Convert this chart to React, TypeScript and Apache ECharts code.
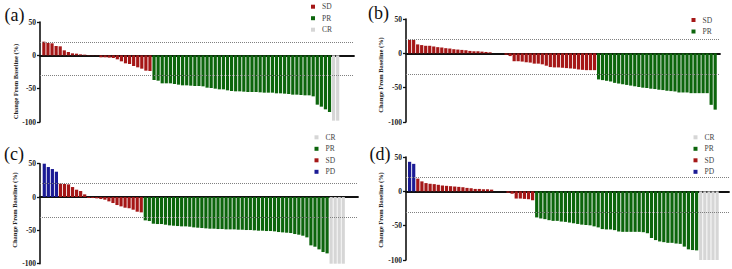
import React, { useEffect, useRef } from "react";
import * as echarts from "echarts";

// ---- data (change from baseline, %) ----
const aSD = [20.5, 18.5, 18, 14, 13.5, 7.5, 5, 3, 2.5, 1.5, 1, 0.5, 0.3, 0.3, -3, -3, -3.5, -4, -6, -9, -12, -13, -16, -18, -20, -23, -23.5];
const aPR = [-37, -38, -42, -42, -42, -43, -44, -45, -45, -45.5, -46, -46, -46.5, -48.5, -49, -50, -51, -51, -52.5, -53.5, -54, -54, -54.5, -55, -55, -55, -55.5, -56, -56, -56, -57, -57, -57.5, -58, -59, -59, -59.5, -60, -60, -61.5, -74, -77, -81, -85];
const aCR = [-98, -98];

const bSD = [19.5, 19.5, 13, 12, 11, 11, 10, 9, 8.5, 7.5, 7, 6, 5.5, 5, 4.5, 3.5, 3, 3, 2.5, 2, 1.5, 0, 0, 0, -2, -4, -11.5, -11.5, -12, -13, -13.5, -15, -15, -16, -18, -20, -20.5, -20.5, -21, -21.5, -22, -22.5, -23.5, -24, -24.5, -24.5, -24.5];
const bPR = [-38, -39, -40, -41, -43, -44, -45, -46, -47, -48, -49, -50, -50.5, -51.5, -52, -53, -53.5, -54.5, -55, -55.5, -57, -57, -57, -58, -58, -58, -58, -58, -75, -82];

const cPD = [50, 45, 42, 38];
const cSD = [20, 19.5, 19, 15, 11, 9, 4, -1.5, -1.5, -2, -3, -4, -6.5, -9, -12, -14, -16, -17, -19, -22, -23];
const cPR = [-35, -36, -40, -40.5, -40.5, -41.5, -42.5, -43, -43.5, -44, -44, -44.5, -45.5, -46, -46.5, -47, -47.5, -47.5, -48, -48, -48.5, -48.5, -48.5, -49, -49, -49.5, -49.5, -50, -50.5, -50.5, -51, -51, -51.5, -52.5, -53, -53.5, -54, -55.5, -56.5, -58, -60.5, -72.5, -74.5, -78.5, -82.5, -84.5];
const cCR = [-100, -100, -100, -100];

const dPD = [43, 40];
const dSD = [18.5, 14.5, 12, 11, 10.5, 9.5, 8.5, 8, 7.5, 7, 6.5, 6, 5, 4.5, 3.5, 3.5, 3, 3, 2.5, 0, 0, 0, -2, -3.5, -10.5, -10.5, -11, -11.5, -13];
const dPR = [-38, -39.5, -40.5, -42, -43, -43, -44, -44.5, -45.5, -46.5, -47.5, -48.5, -49, -49.5, -51, -52.5, -55, -55.5, -55.5, -56.5, -58.5, -59, -59, -59, -59, -59, -59.5, -61, -68, -71, -73, -74, -75, -75, -76, -76.5, -80.5, -84.5, -85.5, -86];
const dCR = [-100, -100, -100, -100, -100];

const yTicks = [-100, -50, 0, 50];
const panelLabels = ["(a)", "(b)", "(c)", "(d)"];
const axisTitle = "Change From Baseline (%)";

const COLORS: Record<string, string> = {
  SD: "#a51717",
  PR: "#0c650c",
  CR: "#d6d6d6",
  PD: "#1b1b95",
};

const FONT = "Liberation Serif";

type Group = { name: string; values: number[] };

const panels: { groups: Group[]; legend: string[] }[] = [
  { groups: [{ name: "SD", values: aSD }, { name: "PR", values: aPR }, { name: "CR", values: aCR }], legend: ["SD", "PR", "CR"] },
  { groups: [{ name: "SD", values: bSD }, { name: "PR", values: bPR }], legend: ["SD", "PR"] },
  { groups: [{ name: "PD", values: cPD }, { name: "SD", values: cSD }, { name: "PR", values: cPR }, { name: "CR", values: cCR }], legend: ["CR", "PR", "SD", "PD"] },
  { groups: [{ name: "PD", values: dPD }, { name: "SD", values: dSD }, { name: "PR", values: dPR }, { name: "CR", values: dCR }], legend: ["CR", "PR", "SD", "PD"] },
];

// layout
const grids = [
  { left: 40, top: 22, width: 314, height: 100 },
  { left: 406, top: 19, width: 314, height: 103 },
  { left: 40, top: 163.7, width: 318, height: 100 },
  { left: 406, top: 157, width: 323, height: 103 },
];
const xRanges = [
  [-0.95, 76.0],
  [-0.9, 77.2],
  [-1.06, 77.65],
  [-0.88, 77.9],
];
const legendPos = [
  { left: 311, top: 2.7 },
  { left: 691.5, top: 16 },
  { left: 314.5, top: 133.3 },
  { left: 693.5, top: 133.3 },
];
const titlePos = [
  { x: 15, y: 81.5 },
  { x: 380.5, y: 75 },
  { x: 14.5, y: 210 },
  { x: 380.5, y: 210 },
];
const labelPos = [
  { x: 14.5, y: 15 },
  { x: 378.5, y: 12.5 },
  { x: 14, y: 154 },
  { x: 380, y: 154 },
];

export default function App() {
  const ref = useRef<HTMLDivElement>(null);
  useEffect(() => {
    if (!ref.current) return;
    const chart = echarts.init(ref.current, undefined, { renderer: "svg" });

    const series: any[] = [];
    panels.forEach((p, pi) => {
      let idx = 0;
      p.groups.forEach((g, gi) => {
        const data = g.values.map((v, i) => [idx + i, v]);
        idx += g.values.length;
        const s: any = {
          type: "bar",
          name: g.name,
          xAxisIndex: pi,
          yAxisIndex: pi,
          stack: "p" + pi,
          barWidth: 3.2,
          data,
          itemStyle: { color: COLORS[g.name] },
          silent: true,
        };
        if (gi === 0) {
          s.markLine = {
            silent: true,
            symbol: ["none", "none"],
            label: { show: false },
            lineStyle: { type: "dotted", color: "#808080", width: 1 },
            data: [{ yAxis: 20 }, { yAxis: -30 }],
          };
        }
        series.push(s);
      });
    });

    const graphics: any[] = [];
    titlePos.forEach((t) => {
      graphics.push({
        type: "text",
        x: t.x,
        y: t.y,
        rotation: Math.PI / 2,
        style: {
          text: axisTitle,
          fontFamily: FONT,
          fontWeight: "bold",
          fontSize: 6.5,
          fill: "#222",
          align: "center",
          verticalAlign: "middle",
        },
      });
    });
    labelPos.forEach((l, i) => {
      graphics.push({
        type: "text",
        x: l.x,
        y: l.y,
        style: {
          text: panelLabels[i],
          fontFamily: FONT,
          fontSize: 18,
          fill: "#111",
          align: "center",
          verticalAlign: "middle",
        },
      });
    });

    chart.setOption({
      animation: false,
      textStyle: { fontFamily: FONT },
      grid: grids,
      xAxis: grids.map((_, i) => ({
        gridIndex: i,
        type: "value",
        min: xRanges[i][0],
        max: xRanges[i][1],
        axisLine: { show: true, onZero: true, lineStyle: { color: "#111", width: 1.8 } },
        axisTick: { show: false },
        axisLabel: { show: false },
        splitLine: { show: false },
      })),
      yAxis: grids.map((_, i) => ({
        gridIndex: i,
        type: "value",
        min: yTicks[0],
        max: yTicks[yTicks.length - 1],
        interval: 50,
        axisLine: { show: true, onZero: false, lineStyle: { color: "#111", width: 1.6 } },
        axisTick: { show: true, length: 3, lineStyle: { color: "#111", width: 1.3 } },
        axisLabel: { fontFamily: FONT, fontWeight: "bold", fontSize: 7.5, color: "#222", margin: 4 },
        splitLine: { show: false },
      })),
      legend: panels.map((p, i) => ({
        data: p.legend,
        orient: "vertical",
        left: legendPos[i].left,
        top: legendPos[i].top,
        itemWidth: 4,
        itemHeight: 4,
        itemGap: 3.5,
        icon: "rect",
        selectedMode: false,
        padding: 0,
        textStyle: { fontFamily: FONT, fontSize: 7.5, color: "#444", lineHeight: 8, padding: [0, 0, 0, 2] },
      })),
      graphic: graphics,
      series,
    });
    return () => chart.dispose();
  }, []);
  return <div ref={ref} style={{ position: "fixed", left: 0, top: 0, width: 732, height: 269, background: "#fff" }} />;
}
